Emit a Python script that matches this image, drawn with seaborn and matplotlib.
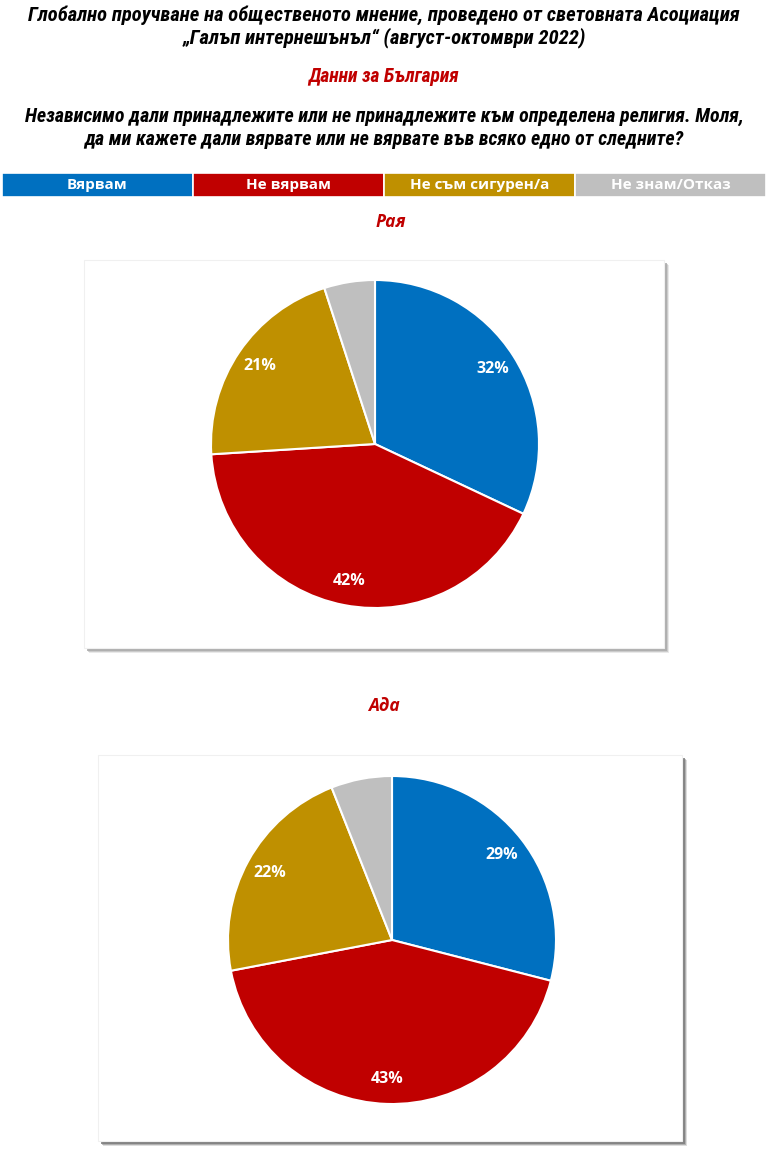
import matplotlib
matplotlib.use("Agg")
import matplotlib.pyplot as plt
from matplotlib import font_manager
from matplotlib.patches import Rectangle
import seaborn as sns

# Survey answers and shares (%)
answers = ["Вярвам", "Не вярвам", "Не съм сигурен/а", "Не знам/Отказ"]
heaven = [32, 42, 21, 5]
hell = [29, 43, 22, 6]
colors = ["#0070C0", "#C00000", "#BF9000", "#BFBFBF"]

title_lines = "Глобално проучване на общественото мнение, проведено от световната Асоциация\n„Галъп интернешънъл“ (август-октомври 2022)"
subtitle = "Данни за България"
question = "Независимо дали принадлежите или не принадлежите към определена религия. Моля,\nда ми кажете дали вярвате или не вярвате във всяко едно от следните?"
chart_titles = ["Рая", "Ада"]

sns.set_theme(style="white")
plt.rcParams["font.family"] = ["DejaVu Sans"]
palette = sns.color_palette(colors)

available = {f.name for f in font_manager.fontManager.ttflist}


def pick(cands):
    for c in cands:
        if c in available:
            return c
    return "DejaVu Sans"


narrow_name = pick(["Liberation Sans Narrow", "Roboto Condensed", "DejaVu Sans Condensed",
                    "Liberation Sans"])
narrow = [narrow_name, "DejaVu Sans"]
body = [pick(["Open Sans", "Noto Sans", "Lato"]), "DejaVu Sans"]

W, H = 768, 1153
fig = plt.figure(figsize=(W / 100, H / 100), dpi=100)
fig.patch.set_facecolor("white")


def fx(x):
    return x / W


def fy(y):
    return 1 - y / H


def fit_text(txt, target_px):
    # scale a figure text so its widest line spans the given pixel width
    r = fig.canvas.get_renderer()
    for _ in range(6):
        w = txt.get_window_extent(renderer=r).width
        if abs(w - target_px) < 1:
            break
        txt.set_fontsize(txt.get_fontsize() * target_px / w)


fig.canvas.draw()
t1 = fig.text(0.5, fy(27), title_lines, ha="center", va="center", fontsize=12.5,
              fontweight="bold", fontstyle="italic", family=narrow, color="black",
              linespacing=1.15)
fit_text(t1, 708)
t2 = fig.text(0.5, fy(77), subtitle, ha="center", va="center", fontsize=t1.get_fontsize(),
              fontweight="bold", fontstyle="italic", family=narrow, color="#C00000")
fit_text(t2, 151)
t3 = fig.text(0.5, fy(128), question, ha="center", va="center", fontsize=13,
              fontweight="bold", fontstyle="italic", family=narrow, color="black",
              linespacing=1.3)
fit_text(t3, 717)

# Colour key strip
lax = fig.add_axes([fx(2), fy(197), fx(764), (197 - 173) / H])
for i, (lab, c) in enumerate(zip(answers, palette)):
    lax.add_patch(Rectangle((i, 0), 1, 1, facecolor=c, edgecolor="white", lw=1.2))
    lax.text(i + 0.5, 0.48, lab, ha="center", va="center", color="white",
             fontsize=11, fontweight="bold", family=body)
lax.set_xlim(0, len(answers))
lax.set_ylim(0, 1)
lax.axis("off")


def framed_pie(values, title, title_xy, frame, center, radius, shade):
    x0, y0, x1, y1 = frame
    # soft drop shadow behind the frame
    for off, alpha in ((5, 0.25), (4, 0.45), (3, 0.8)):
        fig.patches.append(Rectangle((fx(x0 + off), fy(y1 + off)), fx(x1 - x0), (y1 - y0) / H,
                                     transform=fig.transFigure, facecolor=shade,
                                     edgecolor="none", alpha=alpha, zorder=0.5))
    fig.patches.append(Rectangle((fx(x0), fy(y1)), fx(x1 - x0), (y1 - y0) / H,
                                 transform=fig.transFigure, facecolor="white",
                                 edgecolor="#F0F0F0", lw=0.8, zorder=1))
    fig.text(fx(title_xy[0]), fy(title_xy[1]), title, ha="center", va="center",
             fontsize=12.5, fontweight="bold", fontstyle="italic", family=body,
             color="#C00000")
    cx, cy = center
    ax = fig.add_axes([fx(cx - radius), fy(cy + radius), fx(2 * radius), 2 * radius / H])
    ax.set_zorder(2)
    labels_txt = [f"{v}%" if i < 3 else "" for i, v in enumerate(values)]
    wedges, texts = ax.pie(values, colors=palette, startangle=90, counterclock=False,
                           labels=labels_txt, labeldistance=0.85,
                           wedgeprops=dict(edgecolor="white", linewidth=1.5))
    for t in texts:
        t.set_ha("center")
        t.set_va("center")
        t.set_color("white")
        t.set_fontsize(11.5)
        t.set_fontweight("bold")
        t.set_family(body)
    ax.set_xlim(-1, 1)
    ax.set_ylim(-1, 1)
    ax.set_aspect("equal")
    ax.axis("off")


framed_pie(heaven, chart_titles[0], (391, 222), (84, 260, 664, 648), (375, 444), 164, "#A8A8A8")
framed_pie(hell, chart_titles[1], (384, 706), (98, 755, 682, 1141), (392, 940), 164, "#7A7A7A")

fig.savefig("out.png", dpi=100, facecolor="white")
